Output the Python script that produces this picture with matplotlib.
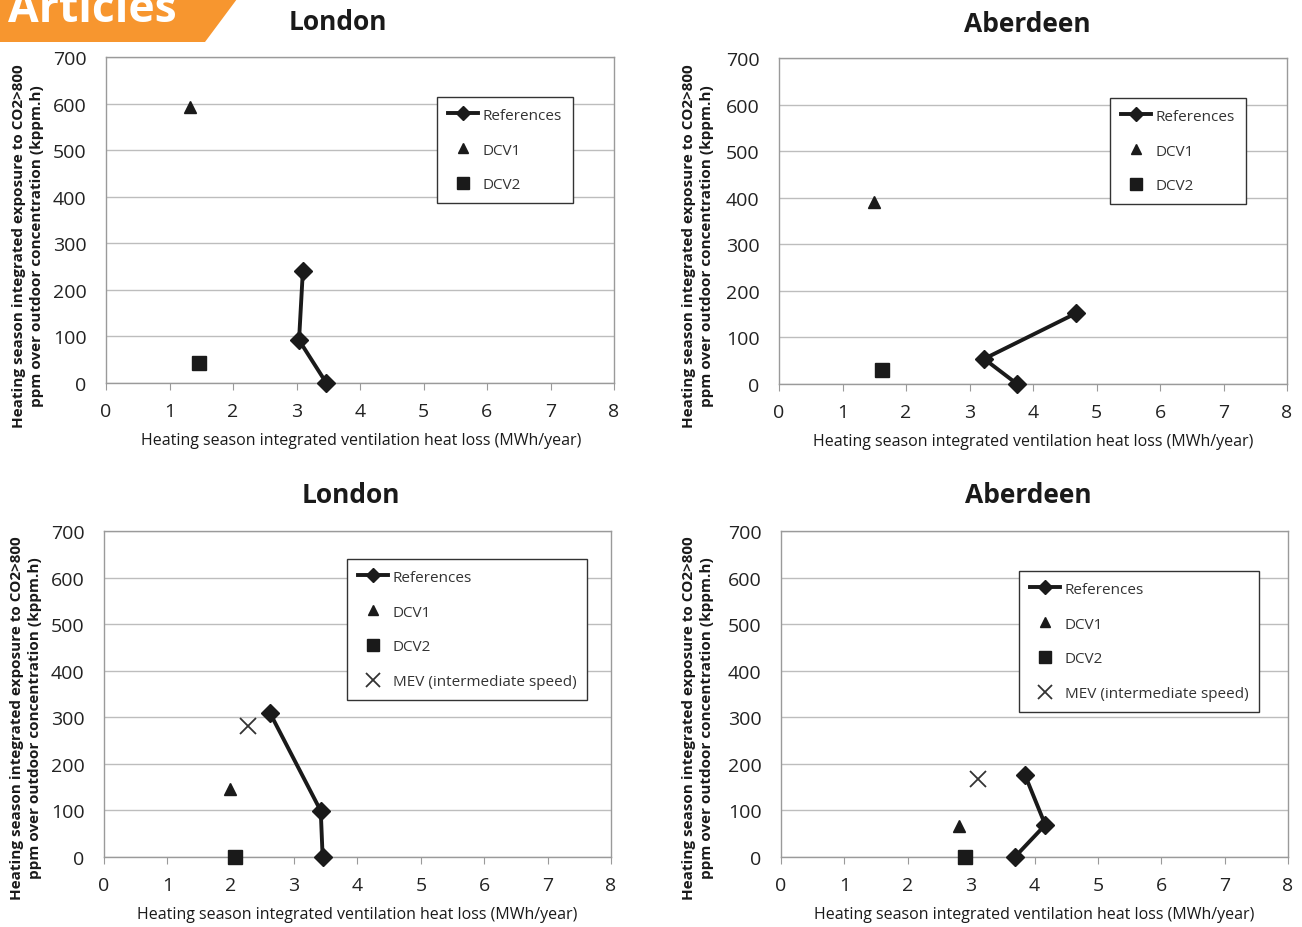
import matplotlib.pyplot as plt
from matplotlib.patches import Polygon

# --- data ---
ldn1_ref_x = [3.10, 3.04, 3.47]
ldn1_ref_y = [240, 92, 0]
ldn1_dcv1 = (1.32, 592)
ldn1_dcv2 = (1.46, 43)

abd1_ref_x = [4.68, 3.23, 3.75]
abd1_ref_y = [152, 54, 0]
abd1_dcv1 = (1.50, 390)
abd1_dcv2 = (1.62, 30)

ldn2_ref_x = [2.62, 3.42, 3.45]
ldn2_ref_y = [309, 99, 0]
ldn2_dcv1 = (1.99, 146)
ldn2_dcv2 = (2.07, 0)
ldn2_mev = (2.27, 281)

abd2_ref_x = [3.85, 4.17, 3.69]
abd2_ref_y = [176, 69, 0]
abd2_dcv1 = (2.81, 66)
abd2_dcv2 = (2.90, 0)
abd2_mev = (3.11, 167)

x_ticks = list(range(0, 9))
y_ticks = list(range(0, 701, 100))

W, H = 1302, 928
FONT = 'Open Sans'
fig = plt.figure(figsize=(W / 100, H / 100), dpi=100)


def px(x, y):
    return x / W, 1 - y / H


def make_panel(rect, title, title_xy, ylab_x, ylab_y, xlab_xy, leg_xy,
               ref_x, ref_y, dcv1, dcv2, mev=None):
    l, t, r, b = rect
    ax = fig.add_axes([l / W, 1 - b / H, (r - l) / W, (b - t) / H])
    ax.set_xlim(0, 8)
    ax.set_ylim(0, 700)
    ax.set_xticks(x_ticks)
    ax.set_yticks(y_ticks)
    ax.grid(axis='y', color='#bdbdbd', lw=1)
    ax.set_axisbelow(True)
    for s in ax.spines.values():
        s.set_color('#9a9a9a')
        s.set_linewidth(1)
    ax.tick_params(axis='x', length=5, color='#9a9a9a', labelsize=14,
                   labelcolor='#222222', pad=9)
    ax.tick_params(axis='y', length=0, labelsize=14, labelcolor='#222222', pad=14)
    for lab in ax.get_xticklabels() + ax.get_yticklabels():
        lab.set_family(FONT)
    ax.plot(ref_x, ref_y, color='#1a1a1a', lw=2.8, marker='D', ms=9,
            label='References', clip_on=False, zorder=4)
    ax.plot(*dcv1, ls='none', marker='^', ms=9, color='#1a1a1a',
            label='DCV1', clip_on=False, zorder=4)
    ax.plot(*dcv2, ls='none', marker='s', ms=10, color='#1a1a1a',
            label='DCV2', clip_on=False, zorder=4)
    if mev is not None:
        ax.plot(*mev, ls='none', marker='x', ms=12, mew=1.3, color='#333333',
                label='MEV (intermediate speed)', clip_on=False, zorder=4)
    leg = ax.legend(loc='upper left', bbox_to_anchor=px(*leg_xy),
                    bbox_transform=fig.transFigure, borderaxespad=0,
                    frameon=True, fancybox=False,
                    edgecolor='#333333', framealpha=1, handlelength=2.0,
                    handletextpad=0.3, labelspacing=1.3, borderpad=0.7,
                    markerscale=0.8, prop={'family': FONT, 'size': 11})
    leg.get_frame().set_linewidth(1)
    for txt in leg.get_texts():
        txt.set_color('#333333')

    fig.text(*px(*title_xy), title, ha='center', va='center',
             fontsize=19, fontweight='bold', family=FONT, color='#1a1a1a')
    fig.text(*px(*xlab_xy),
             'Heating season integrated ventilation heat loss (MWh/year)',
             ha='center', va='center', fontsize=11.5, family=FONT, color='#1a1a1a')
    fig.text(*px(ylab_x, ylab_y),
             'Heating season integrated exposure to CO2>800\n'
             'ppm over outdoor concentration (kppm.h)',
             ha='center', va='center', rotation=90, fontsize=11,
             fontweight='bold', family=FONT, color='#1a1a1a', linespacing=1.45)
    return ax


make_panel((106, 58, 614, 384), 'London', (338, 23), 28, 246, (361, 441),
           (437, 98), ldn1_ref_x, ldn1_ref_y, ldn1_dcv1, ldn1_dcv2)
make_panel((779, 59, 1287, 385), 'Aberdeen', (1027, 24), 698, 246, (1033, 442),
           (1110, 99), abd1_ref_x, abd1_ref_y, abd1_dcv1, abd1_dcv2)
make_panel((104, 532, 611, 858), 'London', (351, 496), 26, 718, (357, 915),
           (347, 560), ldn2_ref_x, ldn2_ref_y, ldn2_dcv1, ldn2_dcv2, ldn2_mev)
make_panel((781, 532, 1288, 858), 'Aberdeen', (1028, 496), 698, 718, (1034, 915),
           (1019, 572), abd2_ref_x, abd2_ref_y, abd2_dcv1, abd2_dcv2, abd2_mev)

# orange "Articles" banner, clipped at the top edge like the source page
banner = Polygon([px(0, 0), px(237, 0), px(205, 43), px(0, 43)], closed=True,
                 transform=fig.transFigure, facecolor='#f7962f', edgecolor='none')
fig.patches.append(banner)
fig.text(*px(8, 22), 'Articles', ha='left', va='baseline', fontsize=32,
         fontweight='bold', family=FONT, color='white')

fig.savefig('out.png', dpi=100)
